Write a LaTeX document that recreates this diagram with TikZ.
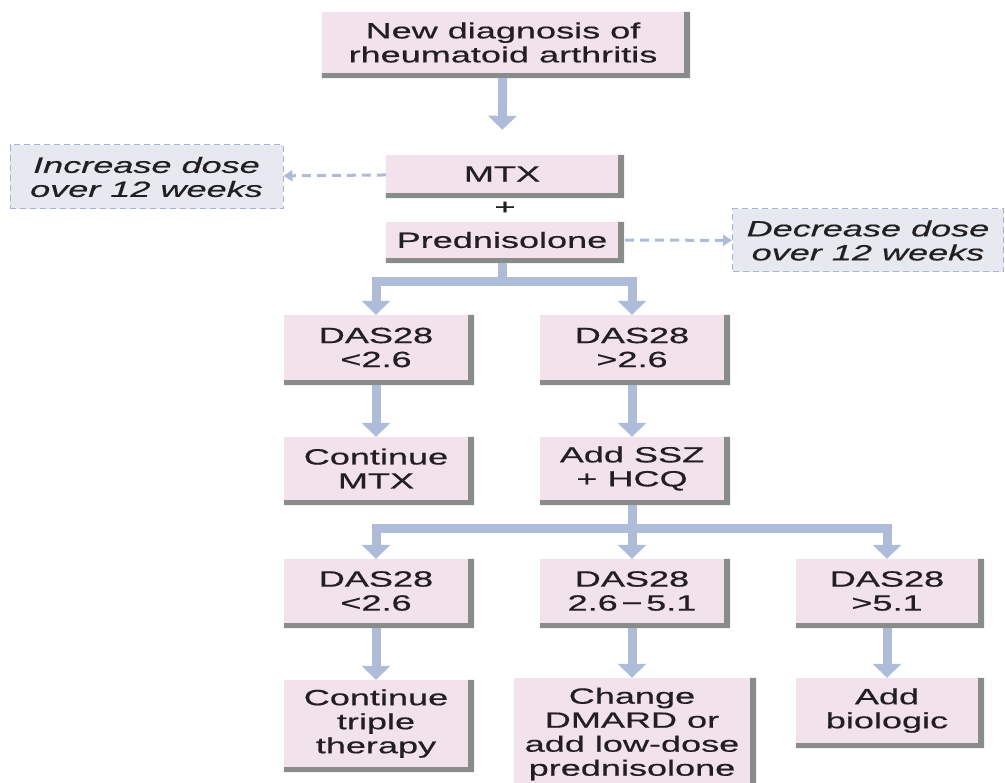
\documentclass[tikz,border=0pt]{standalone}
\usepackage{fontspec}
\setmainfont{Liberation Sans}[FakeStretch=1.64, FakeBold=0.6]
\usetikzlibrary{arrows.meta}

\definecolor{boxpink}{RGB}{242,226,236}
\definecolor{shadegray}{RGB}{138,140,140}
\definecolor{flowblue}{RGB}{174,188,218}
\definecolor{notefill}{RGB}{231,233,241}
\definecolor{notedash}{RGB}{166,179,211}
\definecolor{ink}{RGB}{35,31,32}

\tikzset{
	box/.style={fill=boxpink, text=ink, align=center, inner sep=0pt,
		font=\fontsize{22}{24}\selectfont},
	note/.style={fill=notefill, draw=notedash, line width=1pt, dash pattern=on 6pt off 4pt,
		text=ink, align=center, inner sep=0pt, font=\fontsize{22}{24}\selectfont\itshape},
	flow/.style={draw=flowblue, line width=9pt, shorten <=5pt,
		-{Triangle[width=28pt,length=14pt]}},
	hint/.style={draw=flowblue, line width=3pt, dash pattern=on 9pt off 6pt,
		-{Triangle[width=11pt,length=9pt]}}
}

\begin{document}
\begin{tikzpicture}[x=1pt, y=1pt]
	\useasboundingbox (0,0) rectangle (1005,-783);

	% draw top of the chart
	\node[box, minimum width=362, minimum height=61] (diag) at (503,-42.5) {New diagnosis of\\rheumatoid arthritis};
	\node[box, minimum width=232, minimum height=38] (mtx) at (502,-174) {MTX};
	\node[text=ink, font=\fontsize{22}{24}\selectfont] (plus) at (505,-208) {+};
	\node[box, minimum width=232, minimum height=36] (pred) at (502,-240) {Prednisolone};

	% draw dose notes
	\node[note, minimum width=273, minimum height=64] (inc) at (146.5,-177) {Increase dose\\over 12 weeks};
	\node[note, minimum width=271, minimum height=63] (dec) at (868,-240.5) {Decrease dose\\over 12 weeks};

	% draw first assessment
	\node[box, minimum width=184, minimum height=65] (a_0) at (376,-347.5) {DAS28\\<2.6};
	\node[box, minimum width=184, minimum height=65] (a_1) at (632,-347.5) {DAS28\\>2.6};
	\node[box, minimum width=184, minimum height=63] (b_0) at (376,-468.5) {Continue\\MTX};
	\node[box, minimum width=184, minimum height=63] (b_1) at (632,-468.5) {Add SSZ\\+ HCQ};

	% draw second assessment
	\node[box, minimum width=184, minimum height=64] (c_0) at (376,-591) {DAS28\\<2.6};
	\node[box, minimum width=184, minimum height=64] (c_1) at (632,-591) {DAS28\\2.6\,−\,5.1};
	\node[box, minimum width=182, minimum height=64] (c_2) at (887,-591) {DAS28\\>5.1};
	\node[box, minimum width=184, minimum height=87] (d_0) at (376,-723.5) {Continue\\triple\\therapy};
	\node[box, minimum width=236, minimum height=112] (d_1) at (632,-734) {Change\\DMARD or\\add low-dose\\prednisolone};
	\node[box, minimum width=182, minimum height=65] (d_2) at (887,-710.5) {Add\\biologic};

	% draw box shadows
	\foreach \n in {diag,mtx,pred,a_0,a_1,b_0,b_1,c_0,c_1,c_2,d_0,d_1,d_2}
	{
		\fill[shadegray] (\n.north east) -- ++(6,0) |- ([yshift=-5pt]\n.south west)
			-- (\n.south west) -- (\n.south east) -- cycle;
	}

	% draw arrows
	\coordinate (split_0) at (502,-282);
	\coordinate (split_1) at (632,-529);
	\draw[flow, shorten >=25pt] (diag) -- (mtx);
	\draw[hint] (mtx) -- (inc);
	\draw[hint, shorten <=7pt] (pred) -- (dec);
	\foreach \s in {0,1}
	{
		\draw[flow] (pred.south) -- (split_0) -| (a_\s.north);
		\draw[flow] (a_\s) -- (b_\s);
	}
	\foreach \s in {0,1,2}
	{
		\draw[flow] (b_1.south) -- (split_1) -| (c_\s.north);
		\draw[flow] (c_\s) -- (d_\s);
	}

\end{tikzpicture}
\end{document}
